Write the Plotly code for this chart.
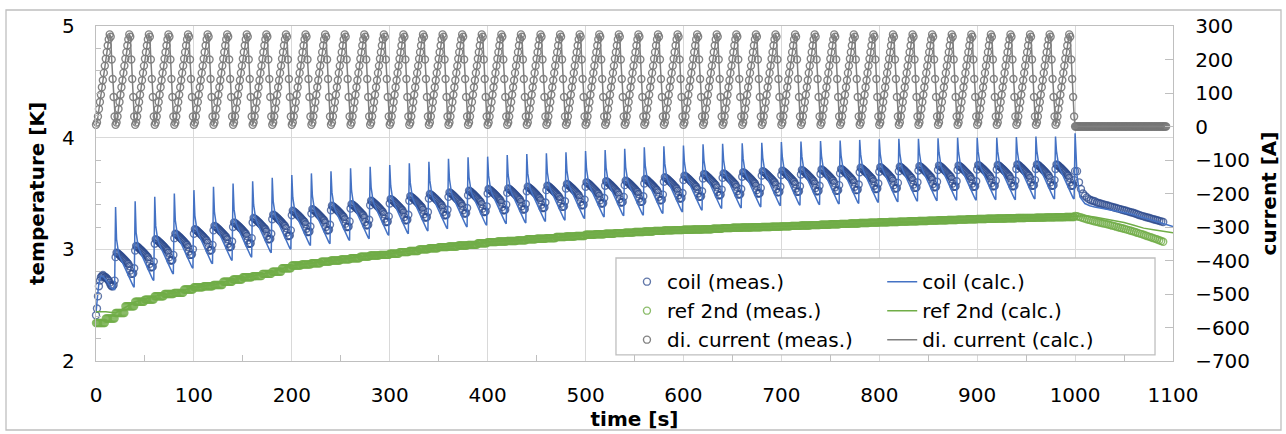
import plotly.graph_objects as go

# one 20 s current cycle [A], sampled every second (same shape repeats 50 times)
CUR_CYCLE = [5, 12, 30, 52, 73, 95, 117, 138, 160, 181, 202, 222, 242, 260, 275, 268, 200, 142, 88, 30]
CUR_TAIL = [0.0] * 94  # t = 1000 .. 1093 s

# coil temperature, first cycle (t = 0..19 s) before the first discharge
COIL_MEAS_START = [2.41, 2.47, 2.58, 2.67, 2.72, 2.75, 2.76, 2.77, 2.76, 2.75,
                   2.75, 2.74, 2.73, 2.72, 2.70, 2.68, 2.67, 2.67, 2.68, 2.72]
COIL_CALC_START = [2.43, 2.50, 2.62, 2.70, 2.74, 2.76, 2.76, 2.76, 2.75, 2.74,
                   2.73, 2.72, 2.71, 2.70, 2.68, 2.66, 2.65, 2.64, 2.64, 2.64]

# coil (meas.) level right after each discharge, cycles at t = 20, 40, ... 980 s
COIL_TOP = [2.97, 3.03, 3.09, 3.14, 3.18, 3.21, 3.24, 3.28, 3.31, 3.345,
            3.36, 3.39, 3.405, 3.435, 3.45, 3.475, 3.495, 3.51, 3.525, 3.54,
            3.546, 3.56, 3.57, 3.585, 3.60, 3.61, 3.615, 3.63, 3.645, 3.66,
            3.675, 3.68, 3.69, 3.70, 3.705, 3.71, 3.715, 3.72, 3.73, 3.735,
            3.74, 3.745, 3.75, 3.75, 3.755, 3.755, 3.76, 3.76, 3.76]
# coil (calc.) spike peak at t = 20, 40, ... 980 s
COIL_SPIKE = [3.38, 3.43, 3.47, 3.50, 3.53, 3.56, 3.59, 3.61, 3.64, 3.666,
              3.68, 3.70, 3.725, 3.74, 3.755, 3.77, 3.785, 3.81, 3.824, 3.83,
              3.845, 3.854, 3.86, 3.87, 3.88, 3.89, 3.90, 3.913, 3.922, 3.93,
              3.94, 3.945, 3.95, 3.955, 3.96, 3.965, 3.97, 3.975, 3.98, 3.985,
              3.99, 3.99, 3.995, 4.0, 4.0, 4.0, 4.005, 4.01, 4.01]
# offsets within a cycle (per second) relative to COIL_TOP
MEAS_SHAPE = [-0.04, 0.0, -0.005, -0.012, -0.02, -0.028, -0.036, -0.045, -0.054, -0.063,
              -0.072, -0.082, -0.092, -0.10, -0.12, -0.16, -0.19, -0.19, -0.185, -0.14]
CALC_SHAPE = [0.12, 0.03, 0.0, -0.03, -0.05, -0.07, -0.09, -0.11, -0.13, -0.15,
              -0.17, -0.19, -0.21, -0.23, -0.25, -0.27, -0.29, -0.30, -0.31]  # j = 1..19

# after the last discharge (t = 1000 .. 1090 s, every 2 s)
COIL_MEAS_TAIL = [3.70, 3.70, 3.60, 3.54, 3.50, 3.48, 3.465, 3.45, 3.44, 3.435,
                  3.43, 3.42, 3.415, 3.41, 3.405, 3.40, 3.395, 3.39, 3.385, 3.38,
                  3.375, 3.37, 3.365, 3.36, 3.355, 3.35, 3.345, 3.34, 3.335, 3.33,
                  3.325, 3.318, 3.312, 3.306, 3.30, 3.295, 3.29, 3.285, 3.28, 3.275,
                  3.27, 3.265, 3.26, 3.255, 3.25, 3.245]
COIL_CALC_TAIL_T = [1000, 1002, 1005, 1010, 1015, 1020, 1030, 1040, 1050, 1060, 1070, 1080, 1090, 1100]
COIL_CALC_TAIL = [4.04, 3.66, 3.47, 3.41, 3.39, 3.38, 3.365, 3.345, 3.33, 3.31, 3.285, 3.26, 3.235, 3.205]

# ref 2nd (meas.) every 10 s, t = 0 .. 990 s
REF_MEAS = [2.34, 2.38, 2.43, 2.49, 2.53, 2.55, 2.58, 2.60, 2.61, 2.64,
            2.66, 2.67, 2.68, 2.71, 2.73, 2.75, 2.76, 2.78, 2.80, 2.83,
            2.855, 2.865, 2.875, 2.89, 2.90, 2.91, 2.92, 2.935, 2.945, 2.95,
            2.96, 2.975, 2.985, 3.0, 3.01, 3.02, 3.025, 3.035, 3.04, 3.055,
            3.065, 3.07, 3.075, 3.08, 3.09, 3.095, 3.10, 3.11, 3.115, 3.12,
            3.13, 3.135, 3.14, 3.145, 3.15, 3.155, 3.16, 3.165, 3.17, 3.172,
            3.176, 3.178, 3.18, 3.185, 3.19, 3.193, 3.196, 3.198, 3.20, 3.203,
            3.206, 3.21, 3.213, 3.217, 3.22, 3.225, 3.228, 3.232, 3.236, 3.239,
            3.242, 3.245, 3.248, 3.251, 3.254, 3.257, 3.26, 3.263, 3.266, 3.269,
            3.272, 3.274, 3.276, 3.278, 3.28, 3.282, 3.284, 3.286, 3.288, 3.29]
REF_MEAS_TAIL = [3.300, 3.296, 3.291, 3.286, 3.280, 3.275, 3.270, 3.265, 3.260, 3.255,
                 3.250, 3.246, 3.242, 3.238, 3.234, 3.230, 3.226, 3.222, 3.217, 3.212,
                 3.208, 3.203, 3.198, 3.193, 3.189, 3.184, 3.179, 3.174, 3.169, 3.164,
                 3.159, 3.153, 3.147, 3.141, 3.136, 3.130, 3.124, 3.118, 3.112, 3.106,
                 3.100, 3.094, 3.088, 3.081, 3.075, 3.068]
REF_CALC_T = [0, 10, 20, 40, 60, 80, 100, 120, 140, 160, 180, 200, 220, 240, 260, 280, 300,
              320, 340, 360, 380, 400, 420, 440, 460, 480, 500, 520, 540, 560, 580, 600,
              620, 640, 660, 680, 700, 720, 740, 760, 780, 800, 820, 840, 860, 880, 900,
              920, 940, 960, 980, 1000, 1010, 1020, 1030, 1040, 1050, 1060, 1070, 1080, 1090, 1100]
REF_CALC = [2.44, 2.44, 2.43, 2.53, 2.58, 2.61, 2.66, 2.68, 2.73, 2.76, 2.80, 2.855, 2.875,
            2.90, 2.92, 2.945, 2.96, 2.985, 3.01, 3.025, 3.04, 3.065, 3.075, 3.09, 3.10,
            3.115, 3.13, 3.14, 3.15, 3.16, 3.17, 3.176, 3.18, 3.19, 3.196, 3.20, 3.206,
            3.213, 3.22, 3.228, 3.236, 3.242, 3.248, 3.254, 3.26, 3.266, 3.272, 3.276,
            3.28, 3.284, 3.288, 3.30, 3.30, 3.29, 3.275, 3.258, 3.24, 3.215, 3.19, 3.175,
            3.16, 3.148]

# assemble the 1 s series
t_cyc, cur, coil_meas, coil_calc, ref_meas = [], [], [], [], []
for k in range(50):
    for j in range(20):
        t = 20 * k + j
        t_cyc.append(t)
        cur.append(CUR_CYCLE[j])
        ref_meas.append(REF_MEAS[t // 10])
        if k == 0:
            coil_meas.append(COIL_MEAS_START[j])
            coil_calc.append(COIL_CALC_START[j])
        else:
            coil_meas.append(COIL_TOP[k - 1] + MEAS_SHAPE[j])
            coil_calc.append(COIL_SPIKE[k - 1] if j == 0 else COIL_TOP[k - 1] + CALC_SHAPE[j - 1])

t_tail2 = list(range(1000, 1091, 2))
t_cur = t_cyc + list(range(1000, 1000 + len(CUR_TAIL)))
cur_all = cur + CUR_TAIL

BLUE_M = "rgba(44,74,140,0.75)"
BLUE_L = "#4472C4"
GREEN_M = "rgba(112,173,71,0.8)"
GREEN_L = "#70AD47"
GRAY_M = "rgba(118,118,118,0.9)"
GRAY_L = "#7F7F7F"
FONT = "DejaVu Sans"


def meas(x, y, name, color, yaxis="y"):
    return go.Scatter(x=x, y=y, name=name, mode="markers", yaxis=yaxis, legend="legend",
                      marker=dict(symbol="circle-open", size=7, color=color, line=dict(width=1.4)),
                      cliponaxis=False)


def calc(x, y, name, color, yaxis="y"):
    return go.Scatter(x=x, y=y, name=name, mode="lines", yaxis=yaxis, legend="legend2",
                      line=dict(color=color, width=1.5), cliponaxis=False)


fig = go.Figure()
fig.add_trace(meas(t_cyc + t_tail2, coil_meas + COIL_MEAS_TAIL, "coil (meas.)", BLUE_M))
fig.add_trace(calc(t_cyc + COIL_CALC_TAIL_T, coil_calc + COIL_CALC_TAIL, "coil (calc.)", BLUE_L))
fig.add_trace(meas(t_cyc + t_tail2, ref_meas + REF_MEAS_TAIL, "ref 2nd (meas.)", GREEN_M))
fig.add_trace(calc(REF_CALC_T, REF_CALC, "ref 2nd (calc.)", GREEN_L))
fig.add_trace(meas(t_cur, cur_all, "di. current (meas.)", GRAY_M, "y2"))
fig.add_trace(calc(t_cur, cur_all, "di. current (calc.)", GRAY_L, "y2"))

axis_font = dict(family=FONT, size=20, color="#000000")
title_font = dict(family=FONT, size=20, color="#000000")

fig.update_layout(
    width=1286, height=434,
    margin=dict(l=96, r=113, t=26, b=73),
    paper_bgcolor="white", plot_bgcolor="white",
    font=dict(family=FONT, size=20, color="#000000"),
    xaxis=dict(range=[0, 1100], dtick=100, tick0=0, showgrid=True, gridcolor="#D9D9D9", gridwidth=1.3,
               showline=True, linecolor="#BFBFBF", linewidth=1.3, mirror=True, zeroline=False,
               ticks="inside", ticklen=0, tickfont=axis_font, ticklabelstandoff=16, automargin=False,
               minor=dict(dtick=50, ticks="inside", ticklen=6, tickcolor="#BFBFBF", showgrid=False),
               title=dict(text="<b>time [s]</b>", font=title_font, standoff=4)),
    yaxis=dict(range=[2, 5], dtick=1, showgrid=True, gridcolor="#D9D9D9", gridwidth=1.3,
               showline=True, linecolor="#BFBFBF", linewidth=1.3, mirror=True, zeroline=False,
               ticks="inside", ticklen=0, tickfont=axis_font, ticklabelstandoff=16, automargin=False,
               minor=dict(dtick=0.2, ticks="inside", ticklen=5, tickcolor="#BFBFBF", showgrid=False),
               title=dict(text="<b>temperature [K]</b>", font=title_font, standoff=12)),
    yaxis2=dict(range=[-700, 300], dtick=100, overlaying="y", side="right", showgrid=False,
                showline=True, linecolor="#BFBFBF", linewidth=1.3, zeroline=False, automargin=False,
                ticks="inside", ticklen=8, tickcolor="#BFBFBF", tickfont=axis_font, ticklabelstandoff=17,
                title=dict(text="<b>current [A]</b>", font=title_font, standoff=12)),
    legend=dict(x=0.493, y=0.295, xanchor="left", yanchor="top", bgcolor="rgba(0,0,0,0)",
                font=dict(family=FONT, size=20, color="#000000"), tracegroupgap=0),
    legend2=dict(x=0.730, y=0.295, xanchor="left", yanchor="top", bgcolor="rgba(0,0,0,0)",
                 font=dict(family=FONT, size=20, color="#000000"), tracegroupgap=0),
    shapes=[
        dict(type="rect", xref="paper", yref="paper", x0=0.4828, x1=0.9833, y0=0.018, y1=0.3075,
             fillcolor="white", line=dict(color="#BFBFBF", width=1.3), layer="above"),
        dict(type="rect", xref="paper", yref="paper", x0=-90 / 1077, x1=1185 / 1077,
             y0=-69 / 335, y1=1 + 16 / 335, fillcolor="rgba(0,0,0,0)",
             line=dict(color="#BFBFBF", width=1.3), layer="below"),
    ],
)

fig.write_html("out.html", config={"displayModeBar": False},
               post_script="document.body.style.margin='0px';")
